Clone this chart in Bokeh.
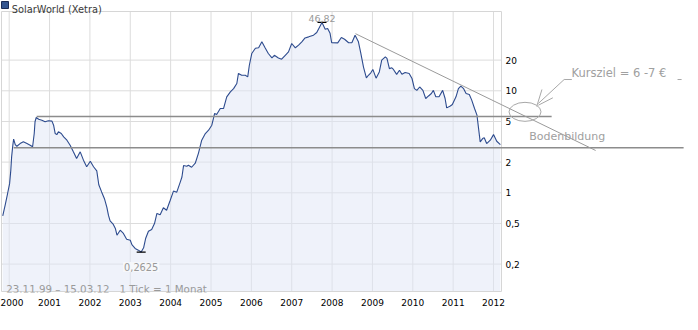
import numpy as np
from bokeh.plotting import figure
from bokeh.models import Range1d, LogAxis, FixedTicker
from bokeh.core.properties import value
from bokeh.embed import file_html
from bokeh.resources import INLINE

# ---------------- data ----------------
title_text = "SolarWorld (Xetra)"
period_text = "23.11.99\u00a0\u2013\u00a015.03.12\u00a0\u00a0\u00a01\u00a0Tick\u00a0=\u00a01\u00a0Monat"

dates = [
    1999.84, 1999.90, 1999.96, 2000.01, 2000.04, 2000.06, 2000.09, 2000.11, 2000.15, 2000.19,
    2000.27, 2000.35, 2000.44, 2000.52, 2000.58, 2000.62, 2000.64, 2000.67, 2000.73, 2000.81,
    2000.89, 2000.97, 2001.06, 2001.10, 2001.14, 2001.18, 2001.22, 2001.29, 2001.35, 2001.43,
    2001.51, 2001.59, 2001.67, 2001.76, 2001.84, 2001.92, 2002.01, 2002.09, 2002.17, 2002.22,
    2002.29, 2002.36, 2002.42, 2002.46, 2002.50, 2002.58, 2002.63, 2002.67, 2002.75, 2002.83,
    2002.91, 2003.00, 2003.04, 2003.12, 2003.20, 2003.27, 2003.33, 2003.38, 2003.45, 2003.53,
    2003.60, 2003.66, 2003.74, 2003.82, 2003.90, 2003.99, 2004.07, 2004.15, 2004.24, 2004.28,
    2004.32, 2004.40, 2004.44, 2004.52, 2004.61, 2004.69, 2004.77, 2004.86, 2004.94, 2005.02,
    2005.09, 2005.14, 2005.23, 2005.31, 2005.39, 2005.48, 2005.56, 2005.64, 2005.68, 2005.76,
    2005.85, 2005.91, 2005.95, 2006.01, 2006.10, 2006.18, 2006.26, 2006.34, 2006.42, 2006.51,
    2006.57, 2006.67, 2006.75, 2006.84, 2006.92, 2007.00, 2007.09, 2007.17, 2007.25, 2007.33,
    2007.42, 2007.54, 2007.62, 2007.75, 2007.83, 2007.89, 2007.95, 2007.99, 2008.14, 2008.23,
    2008.31, 2008.41, 2008.49, 2008.57, 2008.65, 2008.71, 2008.78, 2008.85, 2008.90, 2008.96,
    2009.01, 2009.09, 2009.17, 2009.23, 2009.32, 2009.36, 2009.42, 2009.48, 2009.52, 2009.60,
    2009.67, 2009.73, 2009.81, 2009.91, 2009.98, 2010.04, 2010.10, 2010.17, 2010.25, 2010.32,
    2010.39, 2010.46, 2010.51, 2010.57, 2010.65, 2010.74, 2010.80, 2010.84, 2010.93, 2010.98,
    2011.07, 2011.13, 2011.19, 2011.26, 2011.32, 2011.40, 2011.46, 2011.53, 2011.59, 2011.63,
    2011.67, 2011.73, 2011.77, 2011.83, 2011.92, 2012.00, 2012.08, 2012.17,
]
prices = [
    0.595, 0.756, 0.984, 1.23, 1.67, 2.25, 2.93, 3.36, 2.97, 2.86,
    3.04, 3.16, 3.04, 2.93, 2.83, 3.81, 4.97, 5.47, 5.26, 5.14,
    4.97, 5.08, 5.04, 4.60, 3.81, 3.72, 3.96, 3.81, 3.54, 3.28,
    2.93, 2.52, 2.17, 2.52, 2.09, 1.80, 2.04, 1.80, 1.64, 1.20,
    1.02, 0.875, 0.72, 0.60, 0.53, 0.49, 0.447, 0.384, 0.43, 0.40,
    0.35, 0.343, 0.31, 0.285, 0.274, 0.2625, 0.289, 0.356, 0.42, 0.437,
    0.50, 0.627, 0.61, 0.713, 0.675, 0.845, 1.04, 1.01, 1.28, 1.43,
    1.85, 1.82, 1.86, 1.78, 1.95, 2.45, 3.28, 3.81, 4.11, 4.6,
    5.99, 5.85, 6.7, 6.7, 8.73, 9.77, 10.5, 11.8, 14.8, 14.2,
    14.2, 13.7, 17.8, 23.2, 26.1, 26.4, 30.2, 26.4, 23.2, 21.0,
    22.3, 21.0, 20.4, 22.3, 24.1, 29.1, 26.4, 28.0, 30.2, 33.0,
    33.8, 35.1, 37.3, 46.82, 40.2, 40.9, 36.6, 29.6, 29.5, 33.3,
    32.0, 29.6, 29.6, 35.1, 30.5, 23.5, 17.0, 13.4, 14.2, 15.0,
    16.2, 13.3, 15.3, 20.0, 21.5, 20.8, 16.5, 16.8, 16.2, 14.5,
    15.9, 14.5, 15.1, 14.8, 13.2, 10.5, 10.1, 10.9, 10.1, 8.4,
    8.9, 9.4, 10.1, 8.73, 8.73, 10.1, 8.4, 6.8, 7.1, 7.35,
    8.73, 10.5, 11.1, 10.5, 9.4, 9.2, 8.1, 6.7, 5.77, 4.26,
    3.16, 3.4, 3.46, 3.04, 3.28, 3.72, 3.2, 2.97,
]

year_ticks = list(range(2000, 2013))
price_ticks = [0.2, 0.5, 1, 2, 5, 10, 20]
price_tick_labels = ["0,2", "0,5", "1", "2", "5", "10", "20"]

# analyst drawings (in data units: years / EUR)
support_levels = [5.6, 2.76]
support_from = [2000.68, 2000.11]
support_to = [2013.44, 2016.71]
trend_dates = [2008.58, 2014.53]
trend_prices = [36.3, 2.60]
target_center_date = [2012.78]
target_center_price = [6.22]
callout_dates = [[2013.07, 2013.20], [2013.11, 2013.47], [2013.11, 2013.75, 2013.94], [2016.56, 2016.66]]
callout_prices = [[7.02, 10.3], [7.22, 8.54], [7.51, 12.9, 12.9], [12.9, 12.9]]
target_text = "Kursziel = 6 -7 \u20ac"
base_text = "Bodenbildung"

# ---------------- layout helpers (reference pixel -> data) ----------------
PX_PER_YEAR = 40.36
X_2000 = 10.7
PX_PER_DECADE = 102.0
Y_ONE = 194.3


def tx(px):
    return 2000 + (px - X_2000) / PX_PER_YEAR


def vy(py):
    return 10 ** ((Y_ONE - py) / PX_PER_DECADE)


box_left, box_right = tx(3), tx(503)
box_bottom, box_top = vy(293), vy(13)

FONT = value("DejaVu Sans")
GRID = "#dcdcdc"
LINE = "#2d4b8e"
ANN = "#a0a0a0"

p = figure(width=690, height=322,
           x_range=Range1d(tx(2), tx(692)), y_range=Range1d(vy(294), vy(2)),
           y_axis_type="log", y_axis_location=None,
           toolbar_location=None, output_backend="svg",
           min_border_left=0, min_border_right=0, min_border_top=0, min_border_bottom=30,
           background_fill_color="white", border_fill_color="white", outline_line_color=None)
p.grid.visible = False

# grid lines inside the chart box
n, m = len(year_ticks), len(price_ticks)
p.segment(x0=year_ticks, y0=[box_bottom] * n, x1=year_ticks, y1=[box_top] * n,
          line_color=GRID, line_width=1)
p.segment(x0=[box_left] * m, y0=price_ticks, x1=[box_right] * m, y1=price_ticks,
          line_color=GRID, line_width=1)

# area + line
p.varea(x=dates, y1=[box_bottom] * len(dates), y2=prices, fill_color="#dfe5f5", fill_alpha=0.5)
p.line(dates, prices, line_color=LINE, line_width=1.1)

# box outline
p.quad(left=[box_left], right=[box_right], bottom=[box_bottom], top=[box_top],
       fill_color=None, line_color="#d6d6d6", line_width=1)

# max / min markers
i_max = int(np.argmax(prices))
i_min = int(np.argmin(prices))
p.scatter([dates[i_max], dates[i_min]], [prices[i_max], prices[i_min]], marker="dash",
          size=9, line_color="black", line_width=1.2)
p.text([dates[i_max]], [prices[i_max]], text=[f"{prices[i_max]:.2f}".replace(".", ",")],
       y_offset=-4, text_align="center", text_baseline="alphabetic",
       text_font=FONT, text_font_size="9.5px", text_color="#999999")
p.text([dates[i_min]], [prices[i_min]], text=[f"{prices[i_min]:.4f}".replace(".", ",")],
       y_offset=15, text_align="center", text_baseline="alphabetic",
       text_font=FONT, text_font_size="9.8px", text_color="#999999",
       background_fill_color="#f6f7fa", padding=1)

# analyst drawings
p.segment(x0=support_from, y0=support_levels, x1=support_to, y1=support_levels,
          line_color="#8c8c8c", line_width=1.5)
p.line(trend_dates, trend_prices, line_color="#9a9a9a", line_width=1)
p.ellipse(x=target_center_date, y=target_center_price, width=32, height=19,
          width_units="screen", height_units="screen", fill_color=None,
          line_color="#a8a8a8", line_width=1)
p.multi_line(xs=callout_dates, ys=callout_prices, line_color="#a8a8a8", line_width=1)
p.text([tx(573)], [vy(74)], text=[target_text], text_align="left", text_baseline="alphabetic",
       text_font=FONT, text_font_size="11.5px", text_color=ANN)
p.text([tx(530.7)], [vy(138)], text=[base_text], text_align="left", text_baseline="alphabetic",
       text_font=FONT, text_font_size="11px", text_color=ANN)

# title and period note
p.rect([tx(6.5)], [vy(6.5)], width=7, height=7, width_units="screen", height_units="screen",
       fill_color="#34558f", line_color="#1c2c55", line_width=1)
p.text([tx(13.3)], [vy(10.5)], text=[title_text], text_align="left", text_baseline="alphabetic",
       text_font=FONT, text_font_size="9.8px", text_color="#3a3a3a")
p.text([tx(7.7)], [vy(290)], text=[period_text], text_align="left", text_baseline="alphabetic",
       text_font=FONT, text_font_size="10.3px", text_color="#9a9a9a")

# axes
xa = p.xaxis[0]
xa.ticker = FixedTicker(ticks=year_ticks)
xa.axis_line_color = None
xa.major_tick_line_color = None
xa.minor_tick_line_color = None
xa.major_tick_out = 0
xa.major_tick_in = 0
xa.major_label_standoff = 6
xa.major_label_text_font = "DejaVu Sans"
xa.major_label_text_font_size = "9px"
xa.major_label_text_color = "black"

ya = LogAxis(fixed_location=box_right, ticker=FixedTicker(ticks=price_ticks),
             major_label_overrides=dict(zip(price_ticks, price_tick_labels)),
             axis_line_color=None, major_tick_line_color=None, minor_tick_line_color=None,
             major_tick_out=0, major_tick_in=0, major_label_standoff=4,
             major_label_text_font="DejaVu Sans", major_label_text_font_size="9px",
             major_label_text_color="black")
p.add_layout(ya, "right")

open("out.html", "w").write(file_html(p, INLINE))
